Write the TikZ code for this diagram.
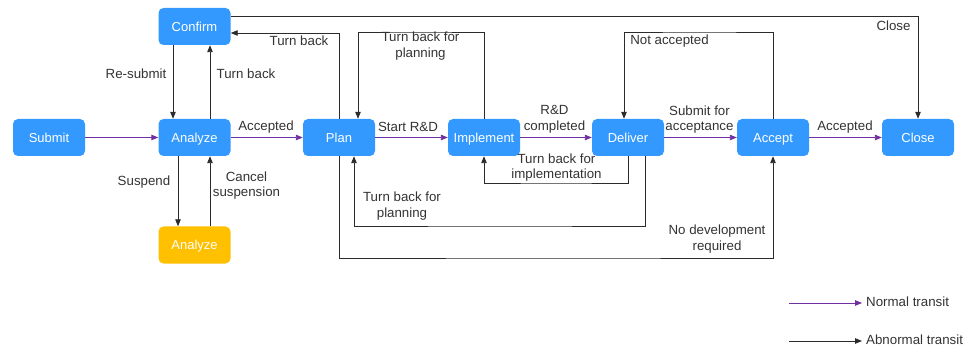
\documentclass[tikz,border=0pt]{standalone}
\usepackage{fontspec}
\setmainfont{Liberation Sans}
\usetikzlibrary{arrows.meta}
\definecolor{stblue}{HTML}{3399FF}
\definecolor{styellow}{HTML}{FFC000}
\definecolor{normpurple}{HTML}{7030A0}
\definecolor{abnline}{HTML}{2B2B2B}
\definecolor{labelgray}{HTML}{333333}
\tikzset{
  state/.style={rounded corners=5pt, minimum width=72pt, minimum height=37pt,
    inner sep=0pt, text=white, text height=9.3pt, text depth=0pt,
    font=\fontsize{13}{15.5}\selectfont},
  bluestate/.style={state, fill=stblue},
  yellowstate/.style={state, fill=styellow},
  normal/.style={draw=normpurple, line width=0.9pt,
    -{Triangle[length=7pt,width=5.5pt]}, normpurple},
  abn/.style={draw=abnline, line width=0.9pt,
    -{Triangle[length=7pt,width=5.5pt]}, abnline},
  lbl/.style={text=labelgray, inner sep=0pt, align=center,
    font=\fontsize{13.3}{15.5}\selectfont},
  lgd/.style={text=labelgray, inner sep=0pt, anchor=west,
    font=\fontsize{13.3}{15.5}\selectfont}
}
\begin{document}
\begin{tikzpicture}[x=1pt, y=-1pt]
\useasboundingbox (0,0) rectangle (968,347);

% states
\node[bluestate] (submit)    at (49,137.5)  {Submit};
\node[bluestate] (analyze)   at (194.5,137.5) {Analyze};
\node[bluestate] (confirm)   at (194.5,26.5)  {Confirm};
\node[yellowstate] (suspended) at (194.5,245) {Analyze};
\node[bluestate] (plan)      at (339,137.5) {Plan};
\node[bluestate] (implement) at (484,137.5) {Implement};
\node[bluestate] (deliver)   at (628,137.5) {Deliver};
\node[bluestate] (accept)    at (773,137.5) {Accept};
\node[bluestate] (close)     at (918,137.5) {Close};

% normal flow
\draw[normal] (submit) -- (analyze);
\draw[normal] (analyze) -- (plan);
\draw[normal] (plan) -- (implement);
\draw[normal] (implement) -- (deliver);
\draw[normal] (deliver) -- (accept);
\draw[normal] (accept) -- (close);

% confirm loop
\draw[abn] ([xshift=-21.5pt]confirm.south) -- ([xshift=-21.5pt]analyze.north);
\draw[abn] ([xshift=15.5pt]analyze.north) -- ([xshift=15.5pt]confirm.south);

% suspension loop
\draw[abn] ([xshift=-16.5pt]analyze.south) -- ([xshift=-16.5pt]suspended.north);
\draw[abn] ([xshift=15.5pt]suspended.north) -- ([xshift=15.5pt]analyze.south);

% routes above the main row
\coordinate (topplan) at (420,32);
\coordinate (topdeliver) at (700,32);
\draw[abn] ([yshift=10.5pt]confirm.east) -| (close.north);
\draw[abn] (plan.north) |- ([yshift=-6.5pt]confirm.east);
\draw[abn] (implement.north) |- (topplan) -| ([xshift=19pt]plan.north);
\draw[abn] (accept.north) |- (topdeliver) -| ([xshift=-4pt]deliver.north);

% routes below the main row
\coordinate (lowimpl) at (556,183);
\coordinate (lowplan) at (500,226);
\coordinate (lowaccept) at (550,258);
\draw[abn] (deliver.south) |- (lowimpl) -| (implement.south);
\draw[abn] ([xshift=17.5pt]deliver.south) |- (lowplan) -| ([xshift=15pt]plan.south);
\draw[abn] (plan.south) |- (lowaccept) -| (accept.south);

% labels
\node[lbl] at (136,74) {Re-submit};
\node[lbl] at (246,74) {Turn back};
\node[lbl] at (299,41) {Turn back};
\node[lbl] at (266,127) {Accepted};
\node[lbl] at (144,182) {Suspend};
\node[lbl] at (246.5,185.5) {Cancel\\suspension};
\node[lbl] at (408,127) {Start R\&D};
\node[lbl] at (420.5,46) {Turn back for\\planning};
\node[lbl] at (554.5,119.5) {R\&D\\completed};
\node[lbl] at (556.5,167.5) {Turn back for\\implementation};
\node[lbl] at (402,206) {Turn back for\\planning};
\node[lbl] at (717,239) {No development\\required};
\node[lbl] at (669.5,41) {Not accepted};
\node[lbl] at (699.5,119.5) {Submit for\\acceptance};
\node[lbl] at (845,127) {Accepted};
\node[lbl] at (893.5,26) {Close};

% legend
\coordinate (lgA1) at (789,303);
\coordinate (lgA2) at (862,303);
\coordinate (lgB1) at (789,341);
\coordinate (lgB2) at (862,341);
\draw[normal] (lgA1) -- (lgA2);
\draw[abn] (lgB1) -- (lgB2);
\node[lgd] at (866,302) {Normal transit};
\node[lgd] at (866,340) {Abnormal transit};
\end{tikzpicture}
\end{document}
